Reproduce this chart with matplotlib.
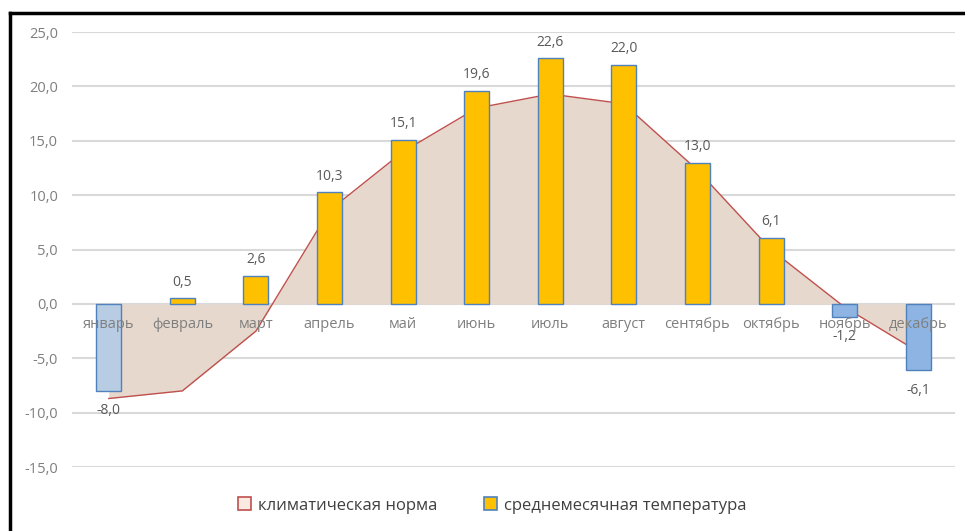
import matplotlib.pyplot as plt
import numpy as np
from matplotlib.lines import Line2D
from matplotlib.patches import Patch

plt.rcParams['font.family'] = ['Open Sans', 'DejaVu Sans']

months = ['январь', 'февраль', 'март', 'апрель', 'май', 'июнь',
          'июль', 'август', 'сентябрь', 'октябрь', 'ноябрь', 'декабрь']
temp_mean = [-8.0, 0.5, 2.6, 10.3, 15.1, 19.6, 22.6, 22.0, 13.0, 6.1, -1.2, -6.1]
temp_norm = [-8.7, -8.0, -2.5, 8.6, 14.0, 18.0, 19.3, 18.4, 12.3, 5.0, -0.3, -4.4]
yticks = [-15, -10, -5, 0, 5, 10, 15, 20, 25]

fig = plt.figure(figsize=(9.65, 5.31), dpi=100)
ax = fig.add_axes([0.0746, 0.1205, 0.915, 0.8192])

x = np.arange(len(months))

# climate norm: area + thin line
ax.fill_between(x, temp_norm, 0, color='#E6D8CD', zorder=1, linewidth=0)
ax.plot(x, temp_norm, color='#C0504D', linewidth=1.0, zorder=2)

# bars
colors = []
for i, v in enumerate(temp_mean):
    if v >= 0:
        colors.append('#FFC000')
    elif i == 0:
        colors.append('#B8CCE4')
    else:
        colors.append('#8EB4E3')
ax.bar(x, temp_mean, width=0.34, color=colors, edgecolor='#4F81BD',
       linewidth=1.0, zorder=3)

# value labels
for xi, v in zip(x, temp_mean):
    txt = f'{v:.1f}'.replace('.', ',')
    if v >= 0:
        ax.annotate(txt, (xi, v), xytext=(0, 6), textcoords='offset points',
                    ha='center', va='bottom', fontsize=10, color='#595959', zorder=5)
    else:
        ax.annotate(txt, (xi, v), xytext=(0, -9), textcoords='offset points',
                    ha='center', va='top', fontsize=10, color='#595959', zorder=5)

# category labels along the zero line
for xi, m in zip(x, months):
    ax.annotate(m, (xi, 0), xytext=(0, -15), textcoords='offset points',
                ha='center', va='center', fontsize=10.5, color='#7F7F7F', zorder=6)

ax.set_xlim(-0.5, len(months) - 0.5)
ax.set_ylim(-15, 25)
ax.set_yticks(yticks)
ax.set_yticklabels([f'{t:.1f}'.replace('.', ',') for t in yticks],
                   fontsize=10.5, color='#7F7F7F')
ax.tick_params(axis='y', length=0, pad=10)
ax.set_xticks([])
ax.grid(axis='y', color='#D9D9D9', linewidth=1.5, zorder=0)
ax.set_axisbelow(True)
for s in ax.spines.values():
    s.set_visible(False)

handles = [Patch(facecolor='#FBEAE2', edgecolor='#C0504D', linewidth=1.2),
           Patch(facecolor='#FFC000', edgecolor='#4F81BD', linewidth=1.2)]
fig.legend(handles, ['климатическая норма', 'среднемесячная температура'],
           loc='center', bbox_to_anchor=(0.51, 0.048), ncol=2, frameon=False,
           fontsize=12, handlelength=0.8, handleheight=0.8, handletextpad=0.4,
           columnspacing=2.8, labelcolor='#404040')

# outer frame (top and left edges visible)
fig.add_artist(Line2D([0.010, 1.0], [0.975, 0.975], color='black', linewidth=2.5,
                      transform=fig.transFigure))
fig.add_artist(Line2D([0.010, 0.010], [0.0, 0.975], color='black', linewidth=2.5,
                      transform=fig.transFigure))

fig.savefig('out.png', dpi=100)
